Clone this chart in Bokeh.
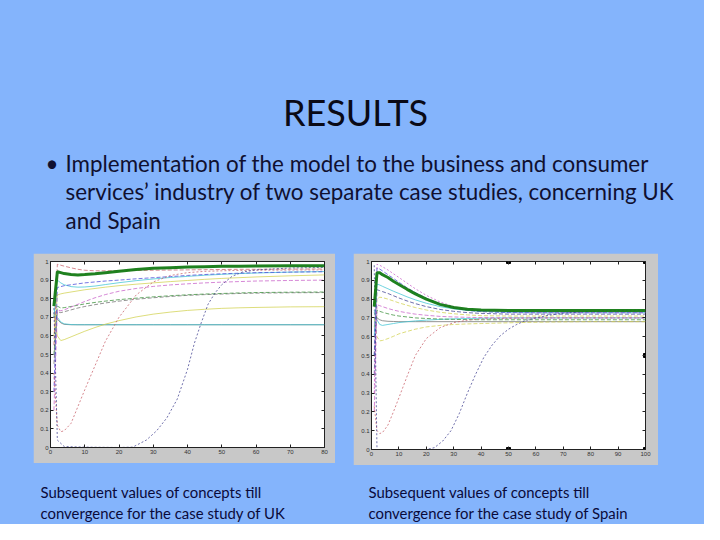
from bokeh.plotting import figure
from bokeh.layouts import column, row
from bokeh.models import Range1d, Spacer, LinearAxis, CustomJSTickFormatter, FixedTicker
from bokeh.core.properties import value
from bokeh.embed import file_html
from bokeh.resources import INLINE

# ---------------- texts ----------------
title_text = "RESULTS"
bullet_lines = [
    "Implementation of the model to the business and consumer",
    "services\u2019 industry of two separate case studies, concerning UK",
    "and Spain",
]
caption_uk = ["Subsequent values of concepts till", "convergence for the case study of UK"]
caption_es = ["Subsequent values of concepts till", "convergence for the case study of Spain"]

# ---------------- UK chart data ----------------
uk_xticks = [0, 10, 20, 30, 40, 50, 60, 70, 80]
uk_x = [1, 2, 3, 4, 6, 8, 10, 13, 16, 20, 25, 30, 35, 40, 45, 50, 55, 60, 70, 80]
uk_green = [0.76, 0.945, 0.94, 0.935, 0.93, 0.928, 0.93, 0.934, 0.94, 0.948, 0.957, 0.964, 0.967, 0.97, 0.972, 0.974, 0.975, 0.976, 0.977, 0.977]
uk_mag_hi = [0.55, 0.985, 0.98, 0.975, 0.966, 0.958, 0.953, 0.95, 0.95, 0.951, 0.952, 0.953, 0.954, 0.955, 0.956, 0.957, 0.958, 0.958, 0.959, 0.96]
uk_blue = [0.3, 0.86, 0.865, 0.87, 0.875, 0.88, 0.885, 0.89, 0.895, 0.9, 0.907, 0.913, 0.919, 0.925, 0.93, 0.934, 0.937, 0.94, 0.943, 0.945]
uk_cyan = [0.7, 0.9, 0.885, 0.875, 0.865, 0.862, 0.863, 0.868, 0.876, 0.886, 0.897, 0.906, 0.914, 0.92, 0.926, 0.931, 0.935, 0.938, 0.943, 0.946]
uk_yellow_hi = [0.6, 0.82, 0.826, 0.83, 0.836, 0.842, 0.848, 0.855, 0.862, 0.87, 0.878, 0.885, 0.892, 0.898, 0.904, 0.909, 0.913, 0.917, 0.923, 0.928]
uk_mag_lo = [0.2, 0.74, 0.735, 0.74, 0.755, 0.77, 0.785, 0.805, 0.822, 0.84, 0.855, 0.866, 0.874, 0.88, 0.885, 0.889, 0.892, 0.895, 0.898, 0.9]
uk_dgreen = [0.5, 0.76, 0.75, 0.752, 0.758, 0.765, 0.772, 0.78, 0.787, 0.795, 0.803, 0.81, 0.816, 0.821, 0.825, 0.828, 0.831, 0.833, 0.835, 0.836]
uk_slate = [0.45, 0.73, 0.725, 0.73, 0.74, 0.75, 0.758, 0.768, 0.777, 0.787, 0.797, 0.805, 0.812, 0.818, 0.822, 0.825, 0.828, 0.83, 0.832, 0.833]
uk_yellow_lo = [0.72, 0.6, 0.575, 0.58, 0.595, 0.61, 0.625, 0.645, 0.663, 0.682, 0.702, 0.717, 0.728, 0.737, 0.743, 0.748, 0.751, 0.753, 0.756, 0.757]
uk_gray = [0.72, 0.69, 0.67, 0.662, 0.66, 0.66, 0.66, 0.66, 0.66, 0.66, 0.66, 0.66, 0.66, 0.66, 0.66, 0.66, 0.66, 0.66, 0.66, 0.66]
uk_cyan_lo = [0.74, 0.7, 0.675, 0.665, 0.661, 0.66, 0.66, 0.66, 0.66, 0.66, 0.66, 0.66, 0.66, 0.66, 0.66, 0.66, 0.66, 0.66, 0.66, 0.66]
uk_red = [0.4, 0.12, 0.085, 0.09, 0.13, 0.22, 0.31, 0.44, 0.57, 0.7, 0.82, 0.89, 0.925, 0.94, 0.947, 0.95, 0.952, 0.953, 0.954, 0.955]
uk_navy_x = [1, 2, 4, 10, 20, 24, 28, 31, 34, 37, 40, 42, 44, 46, 48, 50, 53, 56, 60, 70, 80]
uk_navy = [0.75, 0.04, 0.005, 0.002, 0.0, 0.002, 0.04, 0.09, 0.16, 0.26, 0.42, 0.56, 0.67, 0.77, 0.83, 0.875, 0.92, 0.943, 0.955, 0.965, 0.968]

# ---------------- Spain chart data ----------------
es_xticks = [0, 10, 20, 30, 40, 50, 60, 70, 80, 90, 100]
es_x = [1, 2, 3, 4, 6, 8, 10, 13, 16, 20, 25, 30, 35, 40, 50, 60, 70, 80, 90, 100]
es_green = [0.76, 0.94, 0.94, 0.93, 0.915, 0.895, 0.878, 0.852, 0.828, 0.8, 0.772, 0.755, 0.746, 0.742, 0.74, 0.74, 0.74, 0.74, 0.74, 0.74]
es_pink = [0.3, 0.985, 0.98, 0.972, 0.955, 0.935, 0.915, 0.885, 0.855, 0.82, 0.785, 0.76, 0.745, 0.737, 0.732, 0.73, 0.73, 0.73, 0.73, 0.73]
es_blue = [0.5, 0.965, 0.96, 0.95, 0.93, 0.91, 0.89, 0.86, 0.835, 0.805, 0.775, 0.755, 0.74, 0.733, 0.728, 0.727, 0.727, 0.727, 0.727, 0.727]
es_cyan = [0.6, 0.88, 0.875, 0.868, 0.855, 0.842, 0.83, 0.812, 0.796, 0.778, 0.76, 0.748, 0.74, 0.735, 0.73, 0.728, 0.728, 0.728, 0.728, 0.728]
es_navy_hi = [0.4, 0.85, 0.845, 0.84, 0.83, 0.818, 0.806, 0.79, 0.776, 0.76, 0.745, 0.735, 0.728, 0.724, 0.72, 0.72, 0.72, 0.72, 0.72, 0.72]
es_yellow_hi = [0.65, 0.8, 0.81, 0.808, 0.8, 0.79, 0.78, 0.767, 0.755, 0.742, 0.73, 0.722, 0.716, 0.712, 0.71, 0.71, 0.71, 0.71, 0.71, 0.71]
es_mag = [0.2, 0.77, 0.765, 0.76, 0.75, 0.742, 0.735, 0.727, 0.72, 0.714, 0.708, 0.705, 0.703, 0.702, 0.7, 0.7, 0.7, 0.7, 0.7, 0.7]
es_dgreen = [0.5, 0.74, 0.735, 0.73, 0.722, 0.715, 0.71, 0.705, 0.7, 0.697, 0.694, 0.692, 0.691, 0.69, 0.69, 0.69, 0.69, 0.69, 0.69, 0.69]
es_gray = [0.73, 0.7, 0.69, 0.685, 0.682, 0.681, 0.68, 0.68, 0.68, 0.68, 0.68, 0.68, 0.68, 0.68, 0.68, 0.68, 0.68, 0.68, 0.68, 0.68]
es_cyan_lo = [0.74, 0.69, 0.665, 0.66, 0.665, 0.67, 0.675, 0.68, 0.684, 0.688, 0.692, 0.695, 0.697, 0.698, 0.7, 0.7, 0.7, 0.7, 0.7, 0.7]
es_yellow_lo = [0.7, 0.6, 0.578, 0.58, 0.59, 0.602, 0.615, 0.628, 0.64, 0.652, 0.66, 0.665, 0.668, 0.67, 0.674, 0.677, 0.679, 0.68, 0.68, 0.68]
es_red = [0.23, 0.1, 0.085, 0.09, 0.13, 0.2, 0.275, 0.39, 0.5, 0.59, 0.648, 0.675, 0.688, 0.694, 0.698, 0.7, 0.7, 0.7, 0.7, 0.7]
es_navy_x = [1, 2, 4, 10, 20, 23, 26, 29, 32, 35, 38, 41, 44, 47, 50, 53, 56, 60, 65, 70, 80, 90, 100]
es_navy = [0.98, 0.0, 0.0, 0.0, 0.0, 0.01, 0.045, 0.1, 0.19, 0.3, 0.4, 0.49, 0.555, 0.605, 0.64, 0.665, 0.685, 0.7, 0.715, 0.725, 0.735, 0.74, 0.742]
es_handle_x = [50, 50, 100, 100, 100]
es_handle_y = [1.0, 0.0, 1.0, 0.5, 0.0]

# ---------------- styling ----------------
BG = "#84b4fc"
FRAME = "#c8c8c8"
C_BLUE, C_GREEN, C_RED = "#4a4ad8", "#3a8f3a", "#c8606a"
C_CYAN, C_MAG, C_YEL = "#40c4d4", "#c860c8", "#d2d250"
C_GRAY, C_NAVY, C_THICK = "#707070", "#404090", "#137a13"

uk_series = [
    (uk_x, uk_gray, C_GRAY, "solid", 1),
    (uk_x, uk_cyan_lo, C_CYAN, "solid", 1),
    (uk_x, uk_yellow_lo, C_YEL, "solid", 1),
    (uk_x, uk_slate, C_GRAY, "4 2", 1),
    (uk_x, uk_dgreen, C_GREEN, "4 2", 1),
    (uk_x, uk_mag_lo, C_MAG, "4 2", 1),
    (uk_x, uk_yellow_hi, C_YEL, "solid", 1),
    (uk_x, uk_cyan, C_CYAN, "solid", 1),
    (uk_x, uk_blue, C_BLUE, "4 2", 1),
    (uk_x, uk_mag_hi, C_RED, "4 2", 1),
    (uk_x, uk_red, C_RED, "2 2", 1),
    (uk_navy_x, uk_navy, C_NAVY, "2 2", 1),
    (uk_x, uk_green, C_THICK, "solid", 3),
]
es_series = [
    (es_x, es_gray, C_GRAY, "solid", 1),
    (es_x, es_cyan_lo, C_CYAN, "solid", 1),
    (es_x, es_yellow_lo, C_YEL, "4 2", 1),
    (es_x, es_dgreen, C_GREEN, "4 2", 1),
    (es_x, es_mag, C_MAG, "4 2", 1),
    (es_x, es_yellow_hi, C_YEL, "4 2", 1),
    (es_x, es_navy_hi, C_NAVY, "4 2", 1),
    (es_x, es_cyan, C_CYAN, "solid", 1),
    (es_x, es_blue, C_BLUE, "4 2", 1),
    (es_x, es_pink, C_MAG, "2 2", 1),
    (es_x, es_red, C_RED, "2 2", 1),
    (es_navy_x, es_navy, C_NAVY, "2 2", 1),
    (es_x, es_green, C_THICK, "solid", 3),
]

yticks = [0, 0.1, 0.2, 0.3, 0.4, 0.5, 0.6, 0.7, 0.8, 0.9, 1.0]
yfmt = "return tick == 0 ? '0' : (tick > 0.999 ? '1' : tick.toFixed(1));"


def style_axis(ax, ticks, labels=True):
    ax.ticker = FixedTicker(ticks=ticks)
    ax.major_tick_in = 3
    ax.major_tick_out = 0
    ax.minor_tick_line_color = None
    ax.major_tick_line_color = "#222222"
    ax.axis_line_color = "#222222"
    ax.major_label_standoff = 2
    ax.major_label_text_font = "Liberation Sans"
    ax.major_label_text_font_size = "6px"
    ax.major_label_text_color = "#333333"
    if not labels:
        ax.formatter = CustomJSTickFormatter(code="return '';")
        ax.major_label_standoff = 0
        ax.major_label_text_font_size = "1px"
        ax.axis_line_color = None


def make_chart(w, h, xmax, xticks, borders, series):
    left, right, top, bottom = borders
    p = figure(width=w, height=h, x_range=Range1d(0, xmax), y_range=Range1d(0, 1),
               output_backend="svg", toolbar_location=None,
               background_fill_color="white", border_fill_color=FRAME,
               min_border_left=left, min_border_right=right,
               min_border_top=top, min_border_bottom=bottom,
               x_axis_location=None, y_axis_location=None)
    p.grid.visible = False
    p.outline_line_color = "#222222"
    xb = LinearAxis(); style_axis(xb, xticks); p.add_layout(xb, "below")
    yl = LinearAxis(formatter=CustomJSTickFormatter(code=yfmt)); style_axis(yl, yticks); p.add_layout(yl, "left")
    xa = LinearAxis(); style_axis(xa, xticks, labels=False); p.add_layout(xa, "above")
    yr = LinearAxis(); style_axis(yr, yticks, labels=False); p.add_layout(yr, "right")
    for xs, ys, col, dash, lw in series:
        p.line(xs, ys, line_color=col, line_dash=dash, line_width=lw,
               line_alpha=0.95 if lw > 1 else 0.75)
    return p


uk = make_chart(302, 210, 80, uk_xticks, (17, 11, 8, 13), uk_series)
es = make_chart(305, 212, 100, es_xticks, (18, 13, 8, 16), es_series)
es.scatter(es_handle_x, es_handle_y, marker="square", size=4, color="black")

# ---------------- slide texts ----------------
def text_fig(w, h):
    f = figure(width=w, height=h, x_range=Range1d(0, w), y_range=Range1d(h, 0),
               output_backend="svg", toolbar_location=None, min_border=0,
               background_fill_color=BG, border_fill_color=BG, outline_line_color=None)
    f.axis.visible = False
    f.grid.visible = False
    return f

FONT = value("Lato")
top = text_fig(704, 253)
top.text(x=[355], y=[111], text=[title_text], text_font=FONT,
         text_font_size="36px", text_align="center", text_baseline="alphabetic",
         text_color="#0a0a16")
top.text(x=[45], y=[163], text=["\u2022"], text_font=FONT,
         text_font_size="22.4px", text_baseline="alphabetic", text_color="#101030")
top.text(x=[65, 65, 65], y=[163, 191, 219.5], text=bullet_lines, text_font=FONT,
         text_font_size="22.4px", text_baseline="alphabetic", text_color="#101030")

bottom = text_fig(704, 59)
bottom.text(x=[40, 40], y=[26, 47], text=caption_uk, text_font=FONT,
            text_font_size="14.9px", text_baseline="alphabetic", text_color="#0a0a3a")
bottom.text(x=[368, 368], y=[26, 47], text=caption_es, text_font=FONT,
            text_font_size="14.9px", text_baseline="alphabetic", text_color="#0a0a3a")

mid = row(Spacer(width=33, height=212), uk, Spacer(width=18, height=212), es,
          Spacer(width=46, height=212), styles={"background-color": BG})
layout = column(top, mid, bottom, styles={"background-color": BG})

open("out.html", "w").write(file_html(layout, INLINE))
